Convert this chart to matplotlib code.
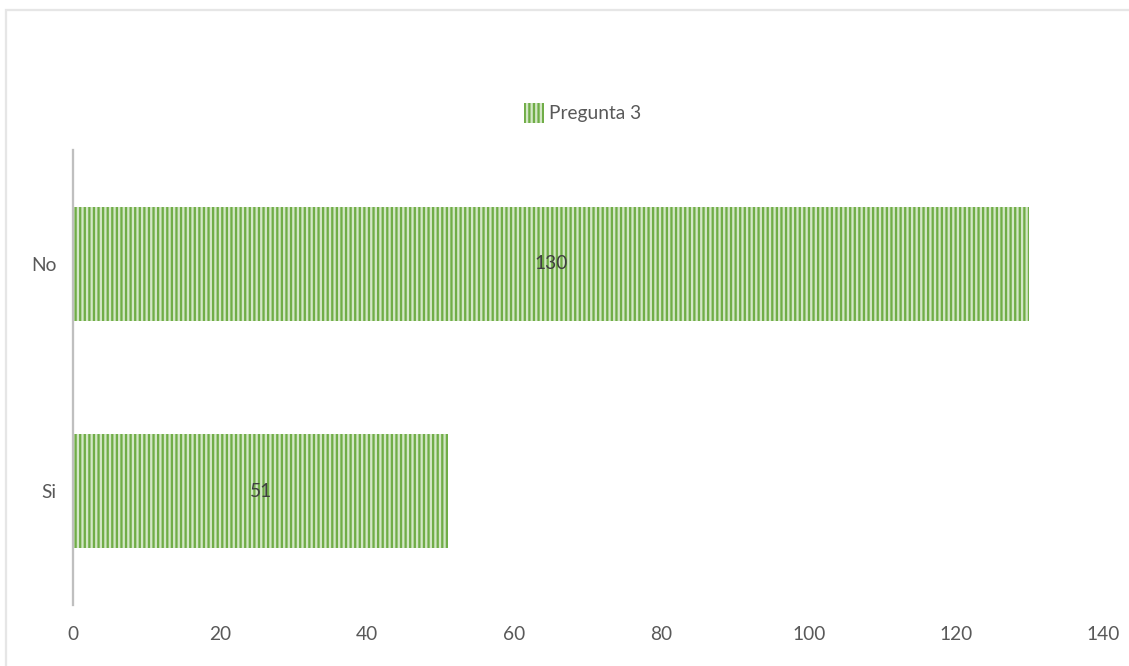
import matplotlib.pyplot as plt
from matplotlib.patches import Rectangle

# Respuestas a la pregunta 3
categorias = ['Si', 'No']
respuestas = [51, 130]
serie = 'Pregunta 3'
ticks_x = [0, 20, 40, 60, 80, 100, 120, 140]

verde = '#70ad47'
gris_texto = '#595959'

plt.rcParams['font.family'] = ['Lato', 'DejaVu Sans']
plt.rcParams['hatch.linewidth'] = 1.5
plt.rcParams['hatch.color'] = verde

dpi = 110
fig = plt.figure(figsize=(1129 / dpi, 666 / dpi), dpi=dpi)
ax = fig.add_axes([73 / 1129, 1 - 605 / 666, 1030 / 1129, 455 / 666])

barras = ax.barh(categorias, respuestas, height=0.5, color='#d3e7c6',
                 edgecolor=verde, linewidth=0, hatch='||||', label=serie)

# Etiquetas de valor en el centro de cada barra
ax.bar_label(barras, labels=[str(v) for v in respuestas], label_type='center',
             color='#404040', fontsize=12.5)

ax.set_xlim(0, 140)
ax.set_ylim(-0.5, 1.5)
ax.set_xticks(ticks_x)
ax.tick_params(axis='both', length=0, colors=gris_texto, labelsize=12.5)
ax.tick_params(axis='x', pad=13.5)
ax.tick_params(axis='y', pad=11)

for lado in ['top', 'right', 'bottom']:
    ax.spines[lado].set_visible(False)
ax.spines['left'].set_color('#bfbfbf')
ax.spines['left'].set_linewidth(1.5)

leg = fig.legend(loc='center', bbox_to_anchor=(583 / 1129, 1 - 113 / 666),
                 frameon=False, fontsize=12.5, handlelength=1.0, handleheight=1.2,
                 handletextpad=0.3, labelcolor=gris_texto)

# Marco del grafico
fig.patches.append(Rectangle((6 / 1129, -0.1), 1.2, 1 - 10 / 666 + 0.1,
                             transform=fig.transFigure, fill=False,
                             edgecolor='#e6e6e6', linewidth=1.5))

fig.savefig('out.png', dpi=dpi)
